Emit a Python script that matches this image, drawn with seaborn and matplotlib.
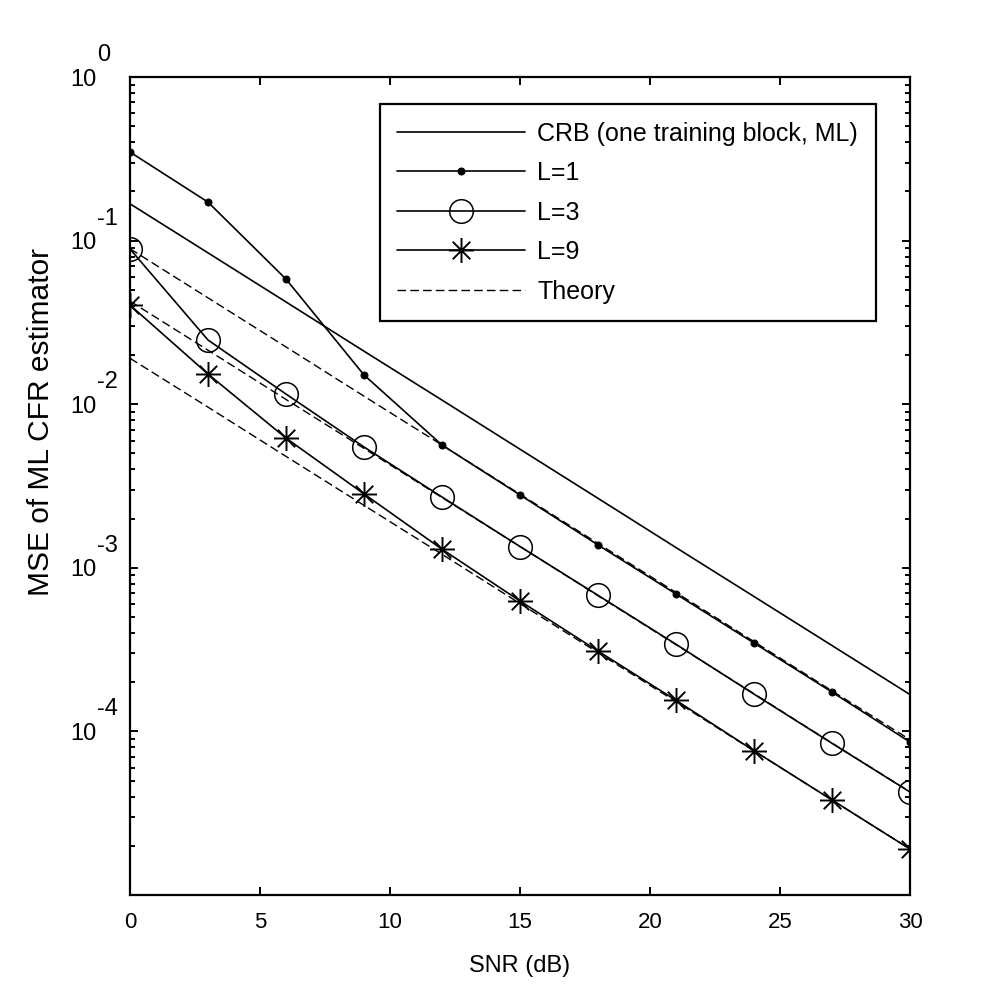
import numpy as np
import pandas as pd
import seaborn as sns
import matplotlib.pyplot as plt
from matplotlib.path import Path
from matplotlib.ticker import LogLocator, NullFormatter

# data
snr = [0, 3, 6, 9, 12, 15, 18, 21, 24, 27, 30]
crb = [0.168, 0.0842, 0.0422, 0.0211, 0.0106, 0.00531, 0.00266, 0.00133, 6.68e-4, 3.35e-4, 1.68e-4]
mse_l1 = [0.348, 0.172, 0.0582, 0.0151, 0.00563, 0.00279, 0.00138, 6.92e-4, 3.47e-4, 1.74e-4, 8.61e-5]
mse_l3 = [0.0889, 0.0247, 0.01154, 0.00548, 0.00271, 0.00135, 6.79e-4, 3.41e-4, 1.69e-4, 8.46e-5, 4.26e-5]
mse_l9 = [0.0404, 0.0153, 0.00621, 0.00283, 0.00130, 6.27e-4, 3.10e-4, 1.55e-4, 7.62e-5, 3.81e-5, 1.91e-5]
theory_l1 = [0.0892, 0.0447, 0.0224, 0.0112, 0.00563, 0.00282, 0.00141, 7.07e-4, 3.54e-4, 1.77e-4, 8.9e-5]
theory_l3 = [0.0427, 0.0214, 0.0107, 0.00537, 0.00269, 0.00135, 6.75e-4, 3.39e-4, 1.70e-4, 8.49e-5, 4.27e-5]
theory_l9 = [0.0191, 0.0096, 0.0048, 0.00241, 0.00121, 6.05e-4, 3.03e-4, 1.52e-4, 7.6e-5, 3.81e-5, 1.91e-5]

xticks = [0, 5, 10, 15, 20, 25, 30]
yticks = [1e-5, 1e-4, 1e-3, 1e-2, 1e-1, 1e0]
ybase = ["", "10", "10", "10", "10", "10"]
yexp = ["", "-4", "-3", "-2", "-1", "0"]

sns.set_style("ticks")
plt.rcParams["font.family"] = ["Liberation Sans", "DejaVu Sans"]
plt.rcParams.update({"text.color": "k", "axes.labelcolor": "k",
                     "xtick.color": "k", "ytick.color": "k"})

df = pd.DataFrame({"snr": snr, "crb": crb, "l1": mse_l1, "l3": mse_l3, "l9": mse_l9,
                   "t1": theory_l1, "t3": theory_l3, "t9": theory_l9})

# MATLAB style asterisk marker
ast = Path([(-1, 0), (1, 0), (0, -1), (0, 1), (-0.7, -0.7), (0.7, 0.7), (-0.7, 0.7), (0.7, -0.7)],
           [Path.MOVETO, Path.LINETO] * 4)

fig = plt.figure(figsize=(10.07, 10.06), dpi=100)
ax = fig.add_axes([0.1291, 0.1103, 0.7746, 0.8131])

lw = 1.2
sns.lineplot(data=df, x="snr", y="crb", ax=ax, color="k", lw=lw, label="CRB (one training block, ML)")
sns.lineplot(data=df, x="snr", y="l1", ax=ax, color="k", lw=lw, marker="o", markersize=5,
             markerfacecolor="k", markeredgecolor="k", label="L=1")
sns.lineplot(data=df, x="snr", y="l3", ax=ax, color="k", lw=lw, marker="o", markersize=17,
             markerfacecolor="none", markeredgecolor="k", markeredgewidth=1.1, label="L=3")
sns.lineplot(data=df, x="snr", y="l9", ax=ax, color="k", lw=lw, marker=ast, markersize=18,
             markerfacecolor="none", markeredgecolor="k", markeredgewidth=1.4, label="L=9")
for col, lab in [("t1", "Theory"), ("t3", "_nolegend_"), ("t9", "_nolegend_")]:
    sns.lineplot(data=df, x="snr", y=col, ax=ax, color="k", lw=1.0, label=lab)
for line in ax.get_lines()[4:]:
    line.set_linestyle((0, (6.2, 3.0)))

ax.set_yscale("log")
ax.set_xlim(0, 30)
ax.set_ylim(1e-5, 1)
ax.set_xticks(xticks)
ax.set_xticklabels([str(t) for t in xticks], fontsize=16)
ax.set_yticks(yticks)
ax.set_yticklabels(ybase, fontsize=17)
ax.yaxis.set_minor_locator(LogLocator(base=10, subs=np.arange(2, 10)))
ax.yaxis.set_minor_formatter(NullFormatter())

ax.tick_params(which="both", direction="in", top=True, right=True, width=1.4, color="k")
ax.tick_params(which="major", length=6)
ax.tick_params(which="minor", length=3.5)
ax.tick_params(axis="y", which="major", pad=24)
ax.tick_params(axis="x", which="major", pad=12)
for s in ax.spines.values():
    s.set_linewidth(1.6)
    s.set_color("k")

for val, e in zip(yticks, yexp):
    if e:
        ax.annotate(e, xy=(0, val), xycoords=ax.get_yaxis_transform(), xytext=(-24, 8),
                    textcoords="offset points", ha="left", va="bottom", fontsize=17)

ax.set_xlabel("SNR (dB)", fontsize=17, labelpad=16)
ax.set_ylabel("MSE of ML CFR estimator", fontsize=21.5)
ax.yaxis.set_label_coords(-0.096, 0.578)

leg = ax.legend(loc="upper right", bbox_to_anchor=(0.956, 0.967), fontsize=18, frameon=True,
                fancybox=False, edgecolor="k", handlelength=5.1, labelspacing=0.62,
                borderpad=0.7, handletextpad=0.5, borderaxespad=0)
leg.get_frame().set_linewidth(1.6)
leg.get_frame().set_alpha(1)

fig.savefig("out.png", dpi=100, facecolor="white")
